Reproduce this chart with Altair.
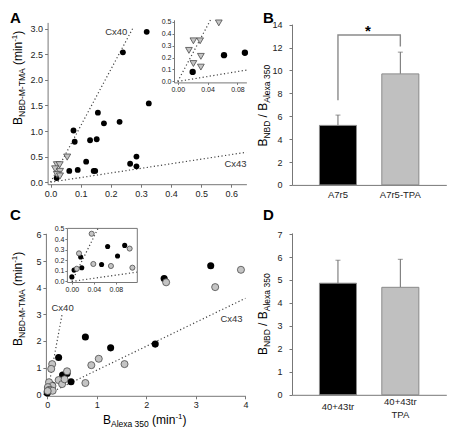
import altair as alt
import pandas as pd

# ------------------------------------------------------------------
# Values
# ------------------------------------------------------------------
# Panel A : A7r5 (black circles) and A7r5 + TPA (grey triangles)
a_black_x = [0.319, 0.240, 0.326, 0.157, 0.177, 0.229, 0.076, 0.080, 0.131,
             0.153, 0.118, 0.062, 0.090, 0.143, 0.148, 0.264, 0.285, 0.285, 0.020]
a_black_y = [2.94, 2.54, 1.54, 1.36, 1.15, 1.18, 1.01, 0.79, 0.82,
             0.84, 0.40, 0.22, 0.24, 0.22, 0.22, 0.36, 0.50, 0.31, 0.08]
a_grey_x = [0.055, 0.021, 0.030, 0.015, 0.031, 0.021, 0.031]
a_grey_y = [0.49, 0.34, 0.34, 0.26, 0.21, 0.15, 0.12]

line_names = ["Cx40", "Cx40", "Cx43", "Cx43"]
a_line_x = [0.0, 0.272, 0.0, 0.65]
a_line_y = [0.0, 3.0, 0.0, 0.585]
a_inset_line_x = [0.0, 0.044, 0.0, 0.092]
a_inset_line_y = [0.0, 0.516, 0.0, 0.095]
line_labels = ["Cx40", "Cx43"]
a_label_x = [0.218, 0.614]
a_label_y = [2.94, 0.35]

# Panel C : 40+43tr (black) and 40+43tr + TPA (grey)
c_black_x = [3.30, 2.36, 0.23, 0.77, 1.28, 2.18, 0.31, 0.40, 0.48,
             0.065, 0.096, 0.016, 0.083, 0.054, 0.018, 0.004, 0.0]
c_black_y = [4.82, 4.34, 1.38, 2.15, 1.74, 1.88, 0.72, 0.78, 0.47,
             0.33, 0.34, 0.23, 0.24, 0.16, 0.13, 0.107, 0.043]
c_grey_x = [3.91, 2.40, 3.39, 1.04, 0.89, 1.56, 0.77, 0.10, 0.08, 0.23, 0.30, 0.35, 0.40,
            0.036, 0.105, 0.013, 0.039, 0.071, 0.110, 0.009]
c_grey_y = [4.67, 4.20, 4.02, 1.33, 1.09, 1.13, 0.42, 1.13, 0.95, 0.53, 0.38, 0.56, 0.86,
            0.45, 0.31, 0.265, 0.165, 0.146, 0.13, 0.12]
c_line_x = [0.0, 0.30, 0.0, 4.0]
c_line_y = [0.0, 3.0, 0.0, 3.6]
c_inset_line_x = [0.0, 0.048, 0.0, 0.118]
c_inset_line_y = [0.0, 0.505, 0.0, 0.088]
c_label_x = [0.31, 3.72]
c_label_y = [3.23, 2.84]

# Panel B
b_cats = ["A7r5", "A7r5-TPA"]
b_mean = [5.2, 9.7]
b_sem = [0.9, 1.9]
b_bracket_x = ["A7r5", "A7r5", "A7r5-TPA", "A7r5-TPA"]
b_bracket_y = [7.4, 13.1, 13.1, 12.1]

# Panel D
d_cats = ["40+43tr", "40+43tr TPA"]
d_mean = [4.86, 4.68]
d_sem = [1.0, 1.22]

# ------------------------------------------------------------------
# Layout (pixels inside the chart)
# ------------------------------------------------------------------
FONT = "Liberation Sans"
W, H = 440, 420

A_X, A_Y = [39.6, 238.4], [176.2, 14.4]
A_XD, A_YD = [-0.01, 0.65], [-0.04, 3.125]
AI_X, AI_Y = [166.0, 238.4], [74.4, 11.8]
AI_XD, AI_YD = [-0.005, 0.092], [-0.008, 0.516]
B_X, B_Y, B_YD = [284.0, 438.3], [176.9, 16.1], [0, 14.05]
C_X, C_Y = [37.9, 237.4], [387.8, 225.3]
C_XD, C_YD = [-0.027, 4.0], [-0.06, 6.04]
CI_X, CI_Y = [58.9, 128.8], [274.0, 219.9]
CI_XD, CI_YD = [-0.009, 0.118], [-0.005, 0.505]
D_X, D_Y, D_YD = [284.0, 438.3], [386.8, 224.9], [0, 7.05]


def sc(domain, rng):
    return alt.Scale(domain=domain, range=rng, nice=False, zero=False)


def band(cats, rng):
    return alt.Scale(type="band", domain=cats, range=rng, paddingInner=0.406, paddingOuter=0.44)


def ax(orient, offset, values=None, fmt=None, size=9, tick=3, pad=2, labels=True, ticks=True, **extra):
    kw = dict(orient=orient, offset=offset, title=None, grid=False, domainColor="#777",
              domainWidth=1, tickColor="#777", tickSize=tick if ticks else 0, ticks=ticks,
              labels=labels, labelFont=FONT, labelFontSize=size, labelColor="#222",
              labelPadding=pad, labelFlush=False, labelOverlap=False)
    if values is not None:
        kw["values"] = values
    if fmt is not None:
        kw["format"] = fmt
    kw.update(extra)
    return alt.Axis(**kw)


def pts(xs, ys):
    return pd.DataFrame({"x": xs, "y": ys})


def scatter_panel(xd, yd, xr, yr, black, grey, lines, labels, xaxis, yaxis,
                  bsize, gsize, gshape, inset=False, frame=False):
    sx, sy = sc(xd, xr), sc(yd, yr)
    flt = f"datum.x >= {xd[0]} && datum.x <= {xd[1]} && datum.y >= {yd[0]} && datum.y <= {yd[1]}"
    ldf = pd.DataFrame({"line": line_names, "x": lines[0], "y": lines[1]})
    layers = [
        alt.Chart(ldf).mark_line(color="#444", strokeWidth=1.2, strokeDash=[1.2, 2.4]).encode(
            x=alt.X("x:Q", scale=sx, axis=xaxis),
            y=alt.Y("y:Q", scale=sy, axis=yaxis),
            detail="line:N"),
    ]
    bchart = alt.Chart(pts(*black)).mark_point(shape="circle", filled=True, size=bsize,
                                               color="#000", opacity=1)
    gchart = alt.Chart(pts(*grey)).mark_point(shape=gshape, filled=True, size=gsize, fill="#c4c4c4",
                                              stroke="#4a4a4a", strokeWidth=0.8, opacity=1)
    if inset:
        bchart = bchart.transform_filter(flt)
        gchart = gchart.transform_filter(flt)
    for c in (bchart, gchart):
        layers.append(c.encode(x=alt.X("x:Q", scale=sx, axis=None),
                               y=alt.Y("y:Q", scale=sy, axis=None)))
    if labels is not None:
        tdf = pd.DataFrame({"t": line_labels, "x": labels[0], "y": labels[1]})
        layers.append(alt.Chart(tdf).mark_text(font=FONT, fontSize=9.5, color="#333").encode(
            x=alt.X("x:Q", scale=sx, axis=None), y=alt.Y("y:Q", scale=sy, axis=None), text="t:N"))
    if frame:
        layers.append(alt.Chart(ldf).mark_line(opacity=0).encode(
            x=alt.X("x:Q", scale=sx, axis=ax("top", -yr[1], labels=False, ticks=False)),
            y=alt.Y("y:Q", scale=sy, axis=ax("right", xr[1] - W, labels=False, ticks=False)),
            detail="line:N"))
    return alt.layer(*layers).resolve_axis(x="independent", y="independent")


panel_a = scatter_panel(
    A_XD, A_YD, A_X, A_Y, (a_black_x, a_black_y), (a_grey_x, a_grey_y),
    (a_line_x, a_line_y), (a_label_x, a_label_y),
    ax("bottom", A_Y[0] - H, [0, 0.1, 0.2, 0.3, 0.4, 0.5, 0.6], ".1f"),
    ax("left", -A_X[0], [0, 0.5, 1.0, 1.5, 2.0, 2.5, 3.0], ".1f"),
    34, 50, "triangle-down")
panel_ai = scatter_panel(
    AI_XD, AI_YD, AI_X, AI_Y, (a_black_x, a_black_y), (a_grey_x, a_grey_y),
    (a_inset_line_x, a_inset_line_y), None,
    ax("bottom", AI_Y[0] - H, [0, 0.04, 0.08], ".2f", size=7, tick=2, pad=1),
    ax("left", -AI_X[0], [0, 0.1, 0.2, 0.3, 0.4, 0.5], ".1f", size=7, tick=2, pad=1),
    40, 46, "triangle-down", inset=True)
panel_c = scatter_panel(
    C_XD, C_YD, C_X, C_Y, (c_black_x, c_black_y), (c_grey_x, c_grey_y),
    (c_line_x, c_line_y), (c_label_x, c_label_y),
    ax("bottom", C_Y[0] - H, [0, 1, 2, 3, 4], "d"),
    ax("left", -C_X[0], [0, 1, 2, 3, 4, 5, 6], "d"),
    50, 50, "circle")
panel_ci = scatter_panel(
    CI_XD, CI_YD, CI_X, CI_Y, (c_black_x, c_black_y), (c_grey_x, c_grey_y),
    (c_inset_line_x, c_inset_line_y), None,
    ax("bottom", CI_Y[0] - H, [0, 0.04, 0.08], ".2f", size=7, tick=2, pad=1),
    ax("left", -CI_X[0], [0, 0.1, 0.2, 0.3, 0.4, 0.5], ".1f", size=7, tick=2, pad=1),
    26, 26, "circle", inset=True, frame=True)


def bar_panel(cats, mean, sem, xr, yr, yd, yvals, xaxis, bracket=None):
    sx, sy = band(cats, xr), sc(yd, yr)
    df = pd.DataFrame({"cat": cats, "mean": mean, "top": [m + s for m, s in zip(mean, sem)]})
    fill = alt.condition(alt.datum.cat == cats[0], alt.value("#000000"), alt.value("#c0c0c0"))
    layers = [
        alt.Chart(df).mark_rule(color="#6a6a6a", strokeWidth=1).encode(
            x=alt.X("cat:N", scale=sx, axis=None, sort=cats),
            y=alt.Y("mean:Q", scale=sy, axis=None), y2="top:Q"),
        alt.Chart(df).mark_tick(orient="horizontal", size=5, thickness=1, color="#6a6a6a").encode(
            x=alt.X("cat:N", scale=sx, axis=None, sort=cats),
            y=alt.Y("top:Q", scale=sy, axis=None)),
        alt.Chart(df).mark_bar(stroke="#8a8a8a", strokeWidth=1).encode(
            x=alt.X("cat:N", scale=sx, axis=xaxis, sort=cats),
            y=alt.Y("mean:Q", scale=sy,
                    axis=ax("left", -xr[0], yvals, "d", pad=7)),
            fill=fill),
    ]
    if bracket is not None:
        bdf = pd.DataFrame({"cat": bracket[0], "y": bracket[1], "o": list(range(len(bracket[0])))})
        layers.append(alt.Chart(bdf).mark_line(color="#8a8a8a", strokeWidth=1.4).encode(
            x=alt.X("cat:N", scale=sx, axis=None, sort=cats),
            y=alt.Y("y:Q", scale=sy, axis=None), order="o:Q"))
    return alt.layer(*layers).resolve_axis(x="independent", y="independent")


panel_b = bar_panel(b_cats, b_mean, b_sem, B_X, B_Y, B_YD, list(range(0, 15, 2)),
                    ax("bottom", B_Y[0] - H, ticks=False, size=9.5, pad=5, labelAngle=0),
                    bracket=(b_bracket_x, b_bracket_y))
d_pad = {"condition": {"test": f"datum.value == '{d_cats[0]}'", "value": 11.5}, "value": 7}
panel_d = bar_panel(d_cats, d_mean, d_sem, D_X, D_Y, D_YD, list(range(0, 8)),
                    ax("bottom", D_Y[0] - H, ticks=False, size=9.5, pad=d_pad, labelAngle=0,
                       labelBaseline="middle", labelLineHeight=12.5,
                       labelExpr="split(datum.label, ' ')"))


# ------------------------------------------------------------------
# Titles with sub/superscripts, panel letters, significance star
# ------------------------------------------------------------------
def txt(s, x, y, size=12, angle=0, weight="normal", align="left"):
    kw = dict(align=align, baseline="alphabetic", font=FONT, fontSize=size,
              fontWeight=weight, color="#000")
    if angle:
        kw["angle"] = angle
    return alt.Chart(pd.DataFrame({"label": [s]})).mark_text(**kw).encode(
        x=alt.value(x), y=alt.value(y), text="label:N")


texts = []
for s, fs, x, y in [("B", 12, 13.5, 117.0), ("NBD-M-TMA", 8.5, 16.5, 109.0), ("(min", 12, 13.5, 57.1),
                    ("-1", 8, 9.0, 33.8), (")", 12, 13.5, 26.7)]:
    texts.append(txt(s, x, y, fs, angle=270))
for s, fs, x, y in [("B", 12, 13.5, 338.0), ("NBD-M-TMA", 8.5, 16.5, 330.0), ("(min", 12, 13.5, 278.1),
                    ("-1", 8, 9.0, 254.8), (")", 12, 13.5, 247.7)]:
    texts.append(txt(s, x, y, fs, angle=270))
for y0 in (138.6, 347.1):
    for s, fs, x, dy in [("B", 12, 259, 0), ("NBD", 8.5, 262, -8.0), ("/ B", 12, 259, -29.2),
                         ("Alexa 350", 8.5, 262, -43.9)]:
        texts.append(txt(s, x, y0 + dy, fs, angle=270))
for s, fs, x, y in [("B", 12, 95.0, 415.5), ("Alexa 350", 8.5, 103.0, 418.5), ("(min", 12, 144.1, 415.5),
                    ("-1", 8, 167.4, 411.0), (")", 12, 174.5, 415.5)]:
    texts.append(txt(s, x, y, fs))
for s, x, y in [("A", 2, 14.5), ("B", 255, 15.0), ("C", 2, 212), ("D", 255, 212)]:
    texts.append(txt(s, x, y, 15, weight="bold"))
texts.append(txt("*", 360, 27.5, 15, weight="bold", align="center"))

chart = alt.layer(panel_a, panel_ai, panel_b, panel_c, panel_ci, panel_d, *texts).resolve_scale(
    x="independent", y="independent"
).properties(
    width=W, height=H, autosize=alt.AutoSizeParams(type="none"), padding=0, background="white"
).configure_view(strokeWidth=0)

chart.save("out.html", embed_options={"renderer": "svg", "actions": False})
